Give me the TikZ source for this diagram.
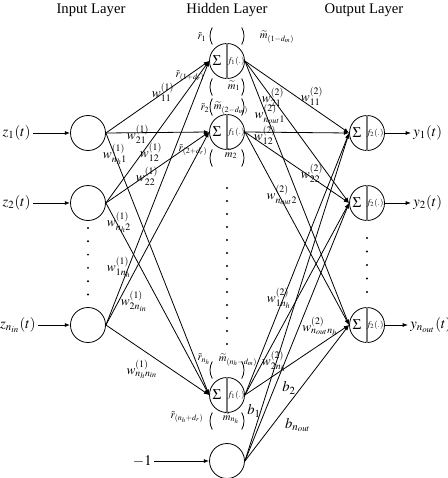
\documentclass[tikz,border=0pt]{standalone}
\usepackage{mathptmx}
\usepackage{fontspec}
\setmainfont{Liberation Serif}
\usetikzlibrary{arrows.meta,calc}
\definecolor{divCol}{RGB}{120,120,120}
\tikzset{
  unit/.style={draw,circle,minimum size=26.25pt,inner sep=0pt},
  flow/.style={-{Latex[length=4pt,width=3pt]}},
  ttl/.style={font=\fontsize{11}{13}\selectfont,inner sep=0pt},
  sig/.style={inner sep=0pt,text=black,font=\fontsize{11}{13}\selectfont},
  fun/.style={inner sep=0pt,font=\fontsize{6.5}{7}\selectfont},
  wlab/.style={font=\fontsize{10}{12}\selectfont,inner sep=0pt},
  rlab/.style={font=\fontsize{8}{9}\selectfont,inner sep=0pt},
  big/.style={font=\fontsize{11}{13}\selectfont,inner sep=1.5pt},
  arcs/.style={line width=0.6pt},
}

\begin{document}
\begin{tikzpicture}[x=0.75pt,y=-0.75pt,line width=0.6pt]
  \useasboundingbox (0,0) rectangle (448,478);
  % layer titles
  \node[ttl] at (91,10) {Input Layer};
  \node[ttl] at (227,10) {Hidden Layer};
  \node[ttl] at (364,10) {Output Layer};

  % input layer
  \node[unit] (i1) at (88,133) {};
  \node[unit] (i2) at (88,203) {};
  \node[unit] (i3) at (88,325) {};
  \node[big,anchor=east] (z1) at (33,133) {$z_1(t)$};
  \node[big,anchor=east] (z2) at (33,203) {$z_2(t)$};
  \node[big,anchor=east] (z3) at (38,325) {$z_{n_{in}}(t)$};
  \draw[flow] (z1) -- (i1);
  \draw[flow] (z2) -- (i2);
  \draw[flow] (z3) -- (i3);
  \foreach \k in {0,...,5}
    \fill (88,{228+13.3*\k}) circle (0.8pt);

  % bias unit
  \node[unit] (bias) at (227,461) {};
  \node[big,anchor=east] (mone) at (154,461) {$-1$};
  \draw[flow] (mone) -- (bias);

  % hidden layer
  \foreach \n/\yy in {1/61,2/132,3/395}{
    \node[unit] (h\n) at (227,\yy) {};
    \draw[divCol,line width=1pt] (h\n.north) -- (h\n.south);
    \node[sig] at ($(h\n)+(-10,0)$) {$\Sigma$};
    \node[fun] at ($(h\n)+(9,0)$) {$f_1(.)$};
    \foreach \d in {-25,26}{
      \draw[arcs] ($(h\n)+(0,\d)$) ++(150:12.75pt) arc[start angle=150,end angle=210,radius=12.75pt];
      \draw[arcs] ($(h\n)+(0,\d)$) ++(-30:12.75pt) arc[start angle=-30,end angle=30,radius=12.75pt];
    }
  }
  \foreach \k in {0,...,12}
    \fill (227,{188+13*\k}) circle (0.8pt);

  % output layer
  \foreach \n/\yy in {1/133,2/203,3/325}{
    \node[unit] (o\n) at (367,\yy) {};
    \draw[divCol,line width=1pt] (o\n.north) -- (o\n.south);
    \node[sig] at ($(o\n)+(-10,0)$) {$\Sigma$};
    \node[fun] at ($(o\n)+(8,0)$) {$f_2(.)$};
  }
  \node[big,anchor=west] (y1) at (411,133) {$y_1(t)$};
  \node[big,anchor=west] (y2) at (411,203) {$y_2(t)$};
  \node[big,anchor=west] (y3) at (408,325) {$y_{n_{out}}(t)$};
  \draw[flow] (o1) -- (y1);
  \draw[flow] (o2) -- (y2);
  \draw[flow] (o3) -- (y3);
  \foreach \k in {0,...,4}
    \fill (367,{238+13.5*\k}) circle (0.8pt);

  % connections
  \foreach \i in {1,2,3}
    \foreach \h in {1,2,3}
      \draw[flow] (i\i.east) -- (h\h.west);
  \foreach \h in {1,2,3}
    \foreach \o in {1,2,3}
      \draw[flow] (h\h.east) -- (o\o.west);
  \foreach \o in {1,2,3}
    \draw[flow] (bias.east) -- (o\o.west);

  % first layer weights
  \node[wlab] at (163,92) {$w^{(1)}_{11}$};
  \node[wlab] at (138,134) {$w^{(1)}_{21}$};
  \node[wlab] at (115,154) {$w^{(1)}_{n_h1}$};
  \node[wlab] at (151,152) {$w^{(1)}_{12}$};
  \node[wlab] at (147,176) {$w^{(1)}_{22}$};
  \node[wlab] at (119,222) {$w^{(1)}_{n_h2}$};
  \node[wlab] at (119,267) {$w^{(1)}_{1n_h}$};
  \node[wlab] at (134,301) {$w^{(1)}_{2n_{in}}$};
  \node[wlab] at (142,369) {$w^{(1)}_{n_hn_{in}}$};

  % second layer weights
  \node[wlab] at (273,97) {$w^{(2)}_{21}$};
  \node[wlab] at (312,96) {$w^{(2)}_{11}$};
  \node[wlab] at (270,114) {$w^{(2)}_{n_{out}1}$};
  \node[wlab] at (265,135) {$w^{(2)}_{12}$};
  \node[wlab] at (312,173) {$w^{(2)}_{22}$};
  \node[wlab] at (282,195) {$w^{(2)}_{n_{out}2}$};
  \node[wlab] at (279,298) {$w^{(2)}_{1n_h}$};
  \node[wlab] at (320,326) {$w^{(2)}_{n_{out}n_h}$};
  \node[wlab] at (274,361) {$w^{(2)}_{2n_h}$};

  % biases
  \node[big] at (254,411) {$b_1$};
  \node[big] at (289,388) {$b_2$};
  \node[big] at (298,425) {$b_{n_{out}}$};

  % recurrent terms
  \node[rlab] at (202,37) {$\tilde{r}_1$};
  \node[rlab] at (277,37) {$\widetilde{m}_{(1-d_m)}$};
  \node[rlab] at (234,86) {$\widetilde{m}_1$};
  \node[rlab] at (190,76) {$\tilde{r}_{(1+d_r)}$};
  \node[rlab] at (205,108) {$\tilde{r}_2$};
  \node[rlab] at (231,108) {$\widetilde{m}_{(2-d_m)}$};
  \node[rlab] at (231,154) {$\widetilde{m}_2$};
  \node[rlab] at (193,150) {$\tilde{r}_{(2+d_r)}$};
  \node[rlab] at (204,359) {$\tilde{r}_{n_h}$};
  \node[rlab] at (238,360) {$\widetilde{m}_{(n_h-d_m)}$};
  \node[rlab] at (187,417) {$\tilde{r}_{(n_h+d_r)}$};
  \node[rlab] at (231,418) {$\widetilde{m}_{n_h}$};
\end{tikzpicture}
\end{document}
